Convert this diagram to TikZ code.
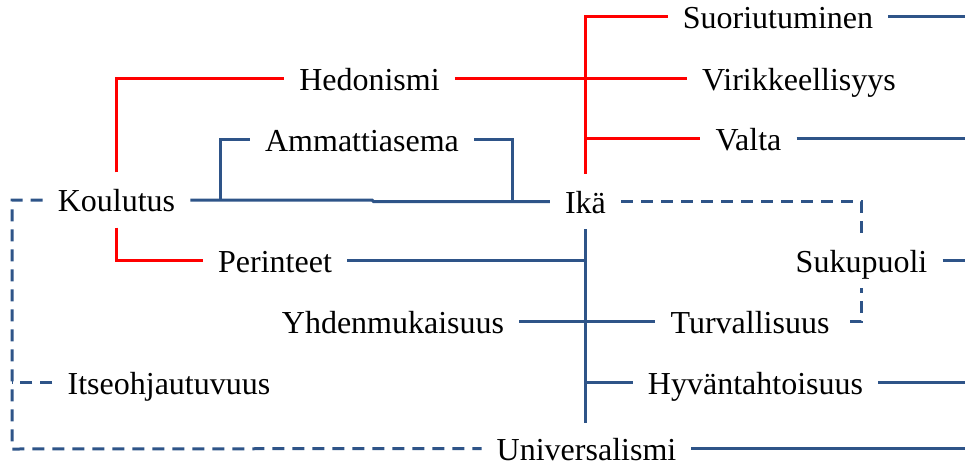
\documentclass[tikz,border=0pt]{standalone}
\usepackage{fontspec}
\setmainfont{Liberation Serif}
\usetikzlibrary{backgrounds}
\definecolor{linkblue}{RGB}{46,84,136}
\definecolor{linkred}{RGB}{255,0,0}
\begin{document}
\begin{tikzpicture}[x=1pt,y=-1pt,
  term/.style={anchor=base, font=\fontsize{32}{38}\selectfont,
    text height=23pt, text depth=0pt, inner xsep=15pt, inner ysep=16pt},
  redlink/.style={draw=linkred, line width=3pt},
  bluelink/.style={draw=linkblue, line width=3pt},
  dashlink/.style={draw=linkblue, line width=3pt, dash pattern=on 12pt off 8pt}]
\path[use as bounding box] (0,0) rectangle (965,463);

% value terms
\node[term] (suor) at (778,28) {Suoriutuminen};
\node[term] (hedo) at (369.5,90) {Hedonismi};
\node[term] (viri) at (799,90) {Virikkeellisyys};
\node[term] (amma) at (362,151) {Ammattiasema};
\node[term] (valta) at (748.5,150) {Valta};
\node[term] (koul) at (116.5,211.5) {Koulutus};
\node[term] (ika) at (585.5,213) {Ikä};
\node[term] (peri) at (275,272) {Perinteet};
\node[term, fill=white] (suku) at (861.5,272) {Sukupuoli};
\node[term] (yhde) at (393,333) {Yhdenmukaisuus};
\node[term] (turv) at (750,333) {Turvallisuus};
\node[term] (itse) at (169,394) {Itseohjautuvuus};
\node[term] (hyva) at (755.5,394) {Hyväntahtoisuus};
\node[term] (univ) at (586.5,460) {Universalismi};

% helper points
\coordinate (R) at (965,0);
\coordinate (brL) at (220,200);
\coordinate (brR) at (512.7,201.5);
\coordinate (jog) at (372,0);
\coordinate (trunkEnd) at (586,423);
\coordinate (leftBL) at (12,449);

\begin{scope}[on background layer]
  % red links
  \draw[redlink] (koul.north) |- (hedo.west);
  \draw[redlink] (koul.south) |- (peri.west);
  \draw[redlink] (hedo.east) -- (viri.west);
  \draw[redlink] (ika.north) |- (suor.west);
  \draw[redlink] (ika.north |- valta.west) -- (valta.west);

  % blue links
  \draw[bluelink] (koul.east) -- (koul.east -| jog)
    -- ([xshift=1.5pt]ika.west -| jog) -- (ika.west);
  \draw[bluelink] (amma.west) -| (brL);
  \draw[bluelink] (amma.east) -| (brR);
  \draw[bluelink] (ika.south) -- (ika.south |- trunkEnd);
  \draw[bluelink] (peri.east) -- (ika.south |- peri.east);
  \draw[bluelink] (yhde.east) -- (turv.west);
  \draw[bluelink] (ika.south |- hyva.west) -- (hyva.west);
  \draw[bluelink] (suor.east) -- (suor.east -| R);
  \draw[bluelink] (valta.east) -- (valta.east -| R);
  \draw[bluelink] (suku.east) -- (suku.east -| R);
  \draw[bluelink] (hyva.east) -- (hyva.east -| R);
  \draw[bluelink] (univ.east) -- (univ.east -| R);

  % dashed links
  \draw[dashlink] (ika.east) -| (suku.center) |- (turv.east);
  \draw[dashlink] (koul.west) -| (leftBL) -- (univ.west);
  \draw[dashlink] (itse.west) -- (itse.west -| leftBL);
\end{scope}
\end{tikzpicture}
\end{document}
